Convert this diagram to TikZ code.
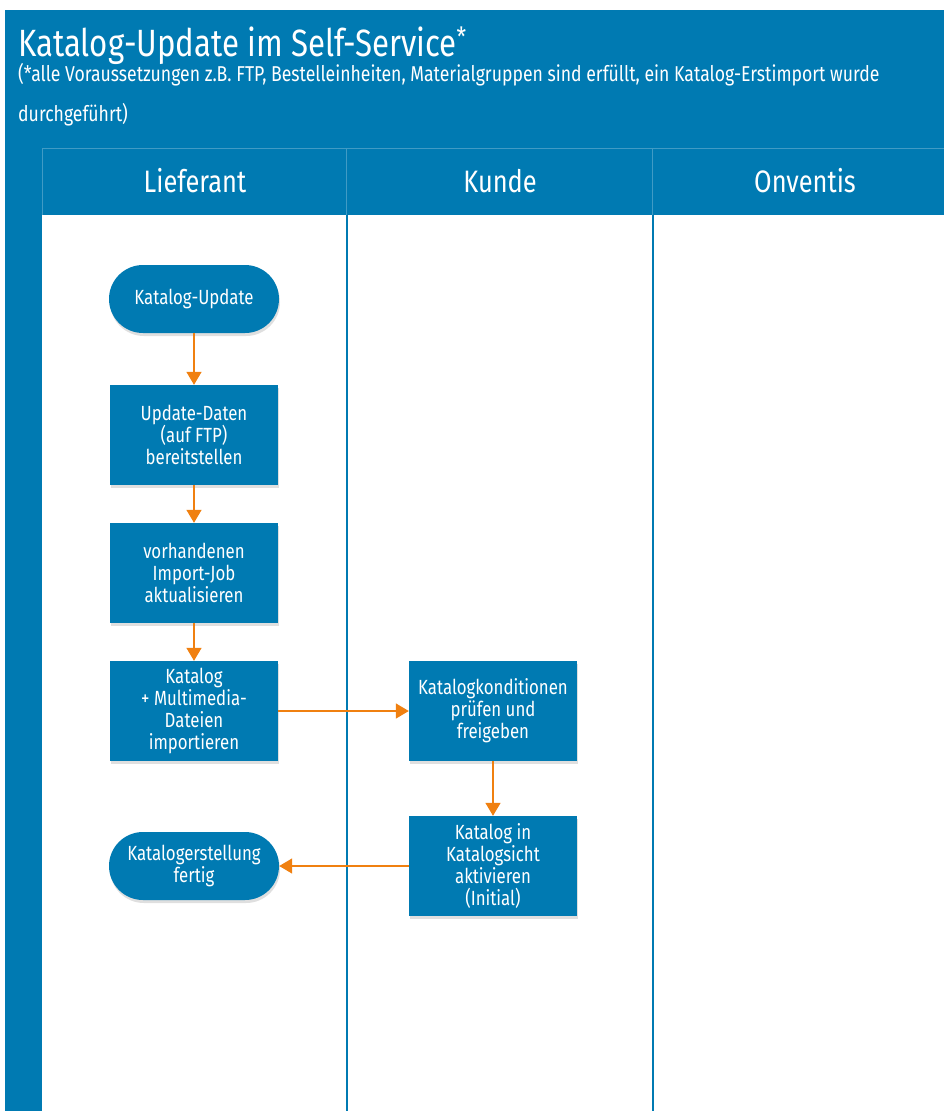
\documentclass[tikz,border=0pt]{standalone}
\usepackage{fontspec}
\setmainfont[FakeStretch=0.82]{Fira Sans}
\usetikzlibrary{arrows.meta, shadows}
\definecolor{onvblue}{RGB}{0,122,178}
\definecolor{onvorange}{RGB}{240,128,16}

\begin{document}
\begin{tikzpicture}[x=1pt, y=-1pt]
	\tikzstyle{task}=[rectangle, fill=onvblue, text=white, align=center,
	minimum width=168pt, minimum height=100pt, inner sep=2pt,
	font=\fontsize{20.5}{22}\selectfont,
	drop shadow={shadow xshift=1pt, shadow yshift=-3pt, opacity=0.25}]
	\tikzstyle{terminal}=[rectangle, rounded corners=34pt, fill=onvblue, text=white,
	align=center, minimum width=170pt, minimum height=68pt, inner sep=2pt,
	font=\fontsize{20.5}{22}\selectfont,
	drop shadow={shadow xshift=1pt, shadow yshift=-3pt, opacity=0.25}]
	\tikzstyle{flow}=[draw=onvorange, line width=1.5pt,
	-{Triangle[length=13pt, width=15pt]}]
	\tikzstyle{lane}=[font=\fontsize{31}{34}\selectfont, text=white]
	
	\useasboundingbox (0,0) rectangle (944,1111);
	\fill[onvblue] (5,10) rectangle (944,1111);
	\fill[white] (42,215) rectangle (346,1111);
	\fill[white] (348,215) rectangle (652,1111);
	\fill[white] (654,215) rectangle (944,1111);
	\draw[onvblue!75!white, thin] (42,215) -- (42,148) -- (944,148);
	\draw[onvblue!75!white, thin] (346,148) -- (346,215);
	\draw[onvblue!75!white, thin] (652,148) -- (652,215);
	
	\node[anchor=base west, text=white, font=\fontsize{38}{40}\selectfont, inner sep=0pt]
	at (18,56) (title) {Katalog-Update im Self-Service\textsuperscript{*}};
	\node[anchor=base west, text=white, font=\fontsize{21.5}{23}\selectfont, inner sep=0pt]
	at (18,81) (note1) {(*alle Voraussetzungen z.B. FTP, Bestelleinheiten, Materialgruppen sind erfüllt, ein Katalog-Erstimport wurde};
	\node[anchor=base west, text=white, font=\fontsize{21.5}{23}\selectfont, inner sep=0pt]
	at (18,121) (note2) {durchgeführt)};
	
	\node[lane] at (195,181) (lieferant) {Lieferant};
	\node[lane] at (500,181) (kunde) {Kunde};
	\node[lane] at (805,181) (onventis) {Onventis};
	
	\node[terminal] at (194,299) (start) {Katalog-Update};
	\node[task] at (194,435) (daten) {Update-Daten\\(auf FTP)\\bereitstellen};
	\node[task] at (194,573) (importjob) {vorhandenen\\Import-Job\\aktualisieren};
	\node[task] at (194,711) (import) {Katalog\\+ Multimedia-\\Dateien\\importieren};
	\node[task] at (493,711) (pruefen) {Katalogkonditionen\\prüfen und\\freigeben};
	\node[task] at (493,866) (aktivieren) {Katalog in\\Katalogsicht\\aktivieren\\(Initial)};
	\node[terminal] at (194,866) (fertig) {Katalogerstellung\\fertig};
	
	\draw[flow] (start) -- (daten);
	\draw[flow] (daten) -- (importjob);
	\draw[flow] (importjob) -- (import);
	\draw[flow] (import) -- (pruefen);
	\draw[flow] (pruefen) -- (aktivieren);
	\draw[flow] (aktivieren) -- (fertig);
\end{tikzpicture}
\end{document}
